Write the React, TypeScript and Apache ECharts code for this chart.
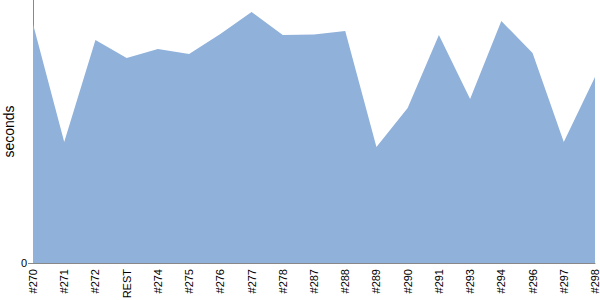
import React, { useEffect, useRef } from "react";
import * as echarts from "echarts";

const categories = ["#270", "#271", "#272", "REST", "#274", "#275", "#276", "#277", "#278", "#287", "#288", "#289", "#290", "#291", "#293", "#294", "#296", "#297", "#298"];
const seconds = [239, 121, 223, 205, 214, 209, 229, 251, 228, 228.5, 232, 116, 155, 228, 164, 242, 210, 121, 186];
const yMax = 263;

export default function App() {
  const ref = useRef<HTMLDivElement>(null);
  useEffect(() => {
    const chart = echarts.init(ref.current!, null, { renderer: "svg" });
    chart.setOption({
      animation: false,
      grid: { left: 33, right: 5, top: 0, bottom: 37, containLabel: false, outerBoundsMode: "none" },
      xAxis: {
        type: "category",
        data: categories,
        boundaryGap: false,
        axisLine: { lineStyle: { color: "#888", width: 1 } },
        axisTick: { show: false },
        axisLabel: { rotate: 90, color: "#000", fontSize: 11, fontFamily: "Liberation Sans, Arial, sans-serif", margin: 6 },
      },
      yAxis: {
        type: "value",
        min: 0,
        max: yMax,
        interval: yMax,
        name: "seconds",
        nameLocation: "middle",
        nameRotate: 90,
        nameGap: 17,
        nameMoveOverlap: false,
        nameTextStyle: { color: "#000", fontSize: 14, fontFamily: "Liberation Sans, Arial, sans-serif" },
        axisLine: { show: true, lineStyle: { color: "#888", width: 1 } },
        axisTick: { show: true, length: 5, lineStyle: { color: "#888" } },
        splitLine: { show: false },
        axisLabel: { showMaxLabel: false, color: "#000", fontSize: 11, fontFamily: "Liberation Sans, Arial, sans-serif", margin: 6 },
      },
      series: [
        {
          type: "line",
          data: seconds,
          symbol: "none",
          lineStyle: { width: 0 },
          areaStyle: { color: "#8fb1da", opacity: 1 },
        },
      ],
    });
    return () => chart.dispose();
  }, []);
  return <div ref={ref} style={{ width: 600, height: 300, position: "absolute", left: 0, top: 0 }} />;
}
